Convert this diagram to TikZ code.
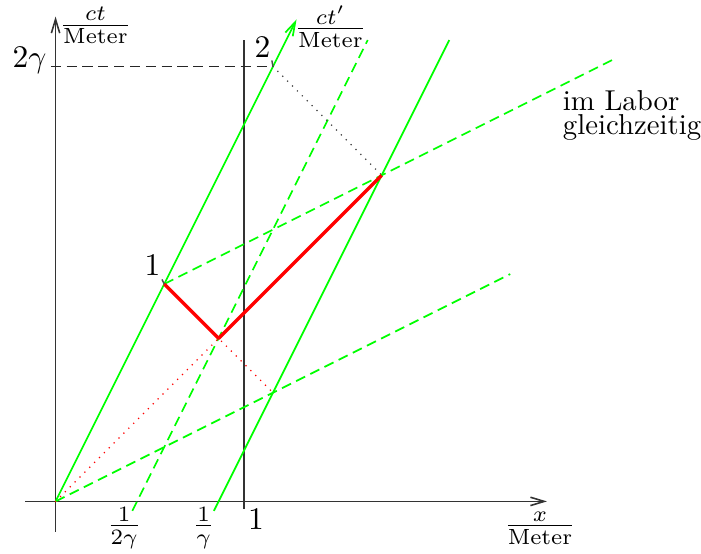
\documentclass[tikz,border=0pt]{standalone}
\usetikzlibrary{calc,arrows.meta}
\begin{document}
\begin{tikzpicture}[x=2.3cm,y=2.3cm, line join=round,
  >={Straight Barb[length=4.8pt,width=2.9pt]},
  axisline/.style={draw=black!80, line width=0.55pt},
  grnline/.style={draw=green, line width=0.6pt},
  grndash/.style={draw=green, line width=0.6pt, dash pattern=on 3.5pt off 2pt},
  blkdash/.style={draw=black!85, line width=0.5pt, dash pattern=on 3.5pt off 2pt},
  blkdot/.style={draw=black!75, line width=0.6pt, line cap=round, dash pattern=on 0pt off 2.4pt},
  reddot/.style={draw=red, line width=0.6pt, line cap=round, dash pattern=on 0pt off 2.4pt},
  redthick/.style={draw=red, line width=1.2pt},
  pinline/.style={draw=black!70, line width=0.5pt},
  lbl/.style={inner sep=0pt, font=\fontsize{10.95}{13}\selectfont},
  fraclbl/.style={inner sep=0pt, scale=1.09, font=\fontsize{10}{12}\selectfont},
  txt/.style={inner sep=0pt, font=\fontsize{10}{8.4}\selectfont}
]
\useasboundingbox (-0.295,-0.279) rectangle (3.428,2.663);

% key points
\coordinate (O) at (0,0);
\coordinate (E1) at (0.5774,1.1547);
\coordinate (E2) at (1.1547,2.3094);
\coordinate (V) at (0.8660,0.8660);
\coordinate (U) at (1.7321,1.7321);
\coordinate (R) at (1.1547,0.5774);
\coordinate (Y2g) at (-0.025,2.3094);

% axes
\coordinate (xs) at (-0.16,0);
\coordinate (xe) at (2.61,0);
\coordinate (ys) at (0,-0.16);
\coordinate (ye) at (0,2.575);
\draw[axisline,->] (xs) -- (xe);
\draw[axisline,->] (ys) -- (ye);
\coordinate (ones) at (1,-0.04);
\coordinate (onee) at (1,2.45);
\draw[axisline] (ones) -- (onee);

% primed axes and lines
\coordinate (cpe) at (1.28,2.56);
\draw[grnline,->] (O) -- (cpe);
\coordinate (x1s) at (0.8410,-0.05);
\coordinate (x1e) at (2.0910,2.45);
\draw[grnline] (x1s) -- (x1e);
\coordinate (xhs) at (0.4080,-0.05);
\coordinate (xhe) at (1.6580,2.45);
\draw[grndash] (xhs) -- (xhe);
\coordinate (t0e) at (2.415,1.2075);
\draw[grndash] (O) -- (t0e);
\coordinate (t1e) at (2.972,2.352);
\draw[grndash] (E1) -- (t1e);

% 2 gamma line
\draw[blkdash] (Y2g) -- (E2);

% light rays
\draw[reddot] (O) -- (V) -- (R);
\draw[blkdot] (E2) -- (U);
\draw[redthick] (E1) -- (V) -- (U);

% labels
\node[lbl, anchor=base east] (l2g) at (-0.045,2.302) {$2\gamma$};
\node[fraclbl] (lct) at (0.212,2.527) {$\frac{ct}{\mathrm{Meter}}$};
\node[fraclbl] (lctp) at (1.460,2.522) {$\frac{ct'}{\mathrm{Meter}}$};
\node[fraclbl] (lx) at (2.573,-0.141) {$\frac{x}{\mathrm{Meter}}$};
\node[fraclbl] (lhg) at (0.364,-0.141) {$\frac{1}{2\gamma}$};
\node[fraclbl] (lg) at (0.786,-0.141) {$\frac{1}{\gamma}$};
\node[lbl, anchor=base] (lone) at (1.065,-0.151) {$1$};
\node[lbl, anchor=base] (l1) at (0.515,1.202) {$1$};
\node[lbl, anchor=base] (l2) at (1.099,2.355) {$2$};
\node[txt, anchor=north west, align=left] (lab) at (2.692,2.185) {im Labor\\gleichzeitig};

% pins
\draw[pinline] ($(l1.south east)+(0.005,-0.02)$) -- (E1);
\draw[pinline] ($(l2.south east)+(0.005,-0.01)$) -- (E2);
\end{tikzpicture}
\end{document}
